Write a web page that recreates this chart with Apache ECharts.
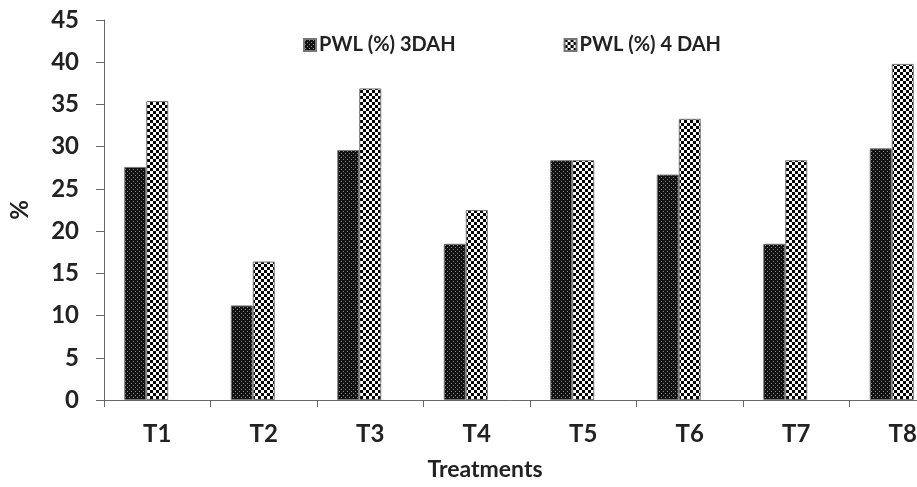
<!DOCTYPE html>
<html>
<head>
<meta charset="utf-8">
<script src="https://cdn.jsdelivr.net/npm/echarts@6/dist/echarts.min.js"></script>
<style>
html,body{margin:0;padding:0;background:#fff;overflow:hidden;}
#chart{width:917px;height:487px;}
</style>
</head>
<body>
<div id="chart"></div>
<script>
const categories = ['T1','T2','T3','T4','T5','T6','T7','T8'];
const pwl3dah = [27.6, 11.2, 29.6, 18.5, 28.4, 26.7, 18.5, 29.8];
const pwl4dah = [35.4, 16.4, 36.9, 22.5, 28.4, 33.3, 28.4, 39.8];
const seriesNames = ['PWL (%) 3DAH', 'PWL (%) 4 DAH'];
const yTicks = {min: 0, max: 45, interval: 5};

function darkPattern() {
  const c = document.createElement('canvas');
  c.width = 4; c.height = 4;
  const g = c.getContext('2d');
  g.fillStyle = '#111'; g.fillRect(0,0,4,4);
  g.fillStyle = '#8a8a8a';
  g.fillRect(1,1,1,1); g.fillRect(3,3,1,1);
  return c;
}
function checkPattern() {
  const c = document.createElement('canvas');
  c.width = 6; c.height = 6;
  const g = c.getContext('2d');
  g.fillStyle = '#fff'; g.fillRect(0,0,6,6);
  g.fillStyle = '#000';
  g.fillRect(0,0,3,3); g.fillRect(3,3,3,3);
  return c;
}

const font = 'Lato, "Open Sans", sans-serif';
const chart = echarts.init(document.getElementById('chart'), null, {renderer: 'canvas'});
chart.setOption({
  animation: false,
  backgroundColor: '#fff',
  grid: {left: 104, width: 852, top: 20, bottom: 87, containLabel: false, outerBoundsMode: 'none'},
  legend: {
    data: seriesNames,
    left: 298, top: 30,
    itemWidth: 12, itemHeight: 12, itemGap: 108,
    icon: 'rect',
    textStyle: {fontFamily: font, fontWeight: 'bold', fontSize: 20, color: '#222', padding: [0,0,0,-2]}
  },
  xAxis: {
    type: 'category',
    data: categories,
    axisLine: {lineStyle: {color: '#666', width: 1}},
    axisTick: {show: true, length: 7, lineStyle: {color: '#666'}},
    axisLabel: {fontFamily: font, fontWeight: 'bold', fontSize: 24, color: '#222', margin: 22}
  },
  yAxis: {
    type: 'value',
    min: yTicks.min, max: yTicks.max, interval: yTicks.interval,
    name: '%',
    nameLocation: 'middle',
    nameGap: 72,
    nameRotate: 90,
    nameTextStyle: {fontFamily: font, fontWeight: 'bold', fontSize: 24, color: '#222'},
    splitLine: {show: false},
    axisLine: {show: true, lineStyle: {color: '#666', width: 1}},
    axisTick: {show: true, length: 8, lineStyle: {color: '#666'}},
    axisLabel: {fontFamily: font, fontWeight: 'bold', fontSize: 24, color: '#222', margin: 25}
  },
  graphic: [{
    type: 'text',
    x: 485, y: 470,
    style: {text: 'Treatments', fontFamily: font, fontWeight: 'bold', fontSize: 23, fill: '#222', textAlign: 'center', textVerticalAlign: 'middle'}
  }],
  series: [
    {
      name: seriesNames[0], type: 'bar', data: pwl3dah,
      barWidth: 22, barGap: '0%',
      itemStyle: {color: {image: darkPattern(), repeat: 'repeat'}, borderColor: '#777', borderWidth: 1}
    },
    {
      name: seriesNames[1], type: 'bar', data: pwl4dah,
      barWidth: 22, barGap: '0%',
      itemStyle: {color: {image: checkPattern(), repeat: 'repeat'}, borderColor: '#777', borderWidth: 1}
    },
    {
      name: '', type: 'bar', data: [], barWidth: 22, barGap: '0%'
    }
  ]
});
</script>
</body>
</html>
